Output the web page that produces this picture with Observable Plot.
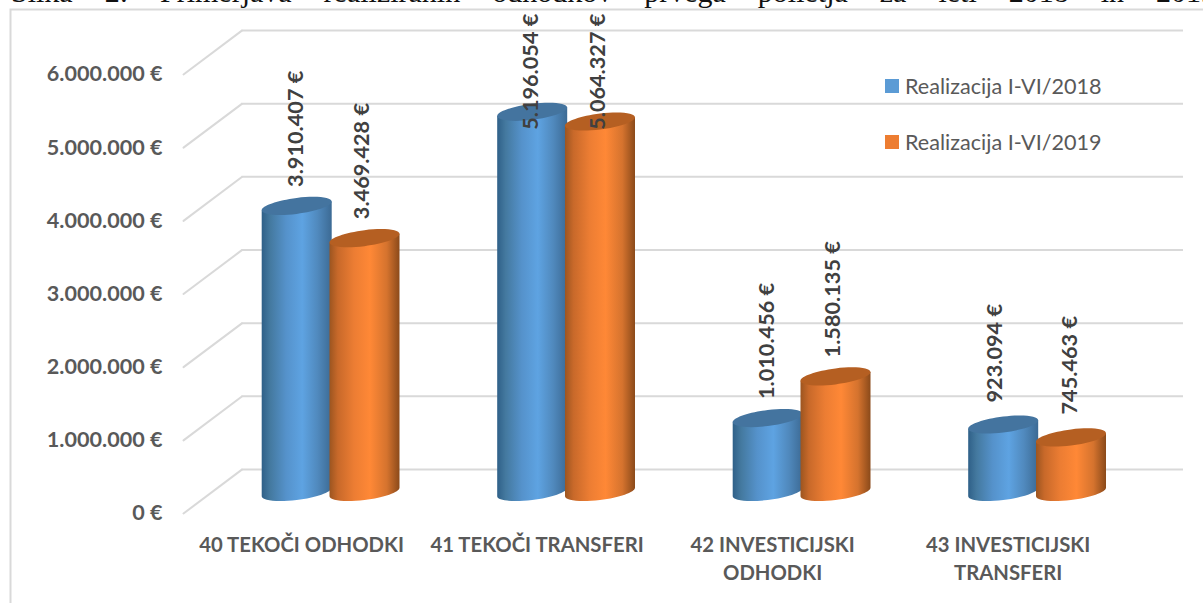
<!DOCTYPE html>
<html>
<head>
<meta charset="utf-8">
<script src="https://cdn.jsdelivr.net/npm/d3@7"></script>
<script src="https://cdn.jsdelivr.net/npm/@observablehq/plot@0.6"></script>
<style>
  html, body { margin: 0; padding: 0; background: #fff; }
  #page { position: relative; width: 1203px; height: 603px; overflow: hidden; }
  #page svg { position: absolute; left: 0; top: 0; }
  #title { position: absolute; left: 11px; top: -23px; line-height: 30px; white-space: nowrap; font-family: "Liberation Serif", serif; font-size: 30px; word-spacing: 24.5px; color: #111; }
  #legend { position: absolute; left: 885px; top: 71px; font: 21.6px Lato, sans-serif; color: #595959; }
  #legend div { display: flex; align-items: center; height: 30px; margin-bottom: 26px; }
  #legend i { display: block; width: 14px; height: 14px; margin-right: 6px; }
</style>
</head>
<body>
<div id="page">
  <div id="title"></div>
  <div id="legend"></div>
</div>
<script>
const titleText = "Slika 2: Primerjava realiziranih odhodkov prvega polletja za leti 2018 in 2019";
const categories = ["40 TEKOČI ODHODKI", "41 TEKOČI TRANSFERI", "42 INVESTICIJSKI\nODHODKI", "43 INVESTICIJSKI\nTRANSFERI"];
const seriesNames = ["Realizacija I-VI/2018", "Realizacija I-VI/2019"];
const values2018 = [3910407, 5196054, 1010456, 923094];
const values2019 = [3469428, 5064327, 1580135, 745463];
const yTicks = [0, 1000000, 2000000, 3000000, 4000000, 5000000, 6000000];
const legendColors = ["#5b9bd5", "#ed7d31"];
const capColors = ["#44749f", "#b55f22"];
const labelCeiling = 4690000; // labels of the tallest bars stop here in the reference

const euro = (v) => d3.format(",")(v).replace(/,/g, ".") + " €";
const rows2018 = categories.map((c, i) => ({category: c, value: values2018[i]}));
const rows2019 = categories.map((c, i) => ({category: c, value: values2019[i]}));

// Cylinder geometry, in pixels around the anchor of each mark
const A = 35, B = 8, K = 4.3, C = 0.5523;
const sh = (x, y) => [x, y - K * x / A];
const bodyShape = {
  draw(ctx, l) {
    ctx.moveTo(...sh(-A, -l));
    ctx.lineTo(...sh(A, -l));
    ctx.lineTo(...sh(A, 0));
    ctx.bezierCurveTo(...sh(A, C * B), ...sh(C * A, B), ...sh(0, B));
    ctx.bezierCurveTo(...sh(-C * A, B), ...sh(-A, C * B), ...sh(-A, 0));
    ctx.closePath();
  }
};
const capSymbol = {
  draw(ctx) {
    ctx.moveTo(...sh(A, 0));
    ctx.bezierCurveTo(...sh(A, C * B), ...sh(C * A, B), ...sh(0, B));
    ctx.bezierCurveTo(...sh(-C * A, B), ...sh(-A, C * B), ...sh(-A, 0));
    ctx.bezierCurveTo(...sh(-A, -C * B), ...sh(-C * A, -B), ...sh(0, -B));
    ctx.bezierCurveTo(...sh(C * A, -B), ...sh(A, -C * B), ...sh(A, 0));
    ctx.closePath();
  }
};
const lineShape = {draw(ctx, l) { ctx.moveTo(0, 0); ctx.lineTo(0, -l); }};

function gradient(id, stops) {
  const g = d3.create("svg:linearGradient").attr("id", id);
  stops.forEach(([o, c]) => g.append("stop").attr("offset", o).attr("stop-color", c));
  return g.node();
}
const defs = () => {
  const d = d3.create("svg:defs");
  d.append(() => gradient("cylBlue", [[0, "#2f6088"], [0.12, "#44799f"], [0.35, "#5592cb"], [0.58, "#5ea3e2"], [0.8, "#5089bd"], [1, "#3c6a94"]]));
  d.append(() => gradient("cylOrange", [[0, "#9c5520"], [0.12, "#c8692a"], [0.35, "#ec7d33"], [0.58, "#ff8836"], [0.82, "#d5732e"], [1, "#8b4a1a"]]));
  return d.node();
};

const cylinder = (rows, fill, cap, dx) => [
  Plot.vector(rows, {x: "category", y: () => 0, length: "value", anchor: "start", rotate: 0, shape: bodyShape, fill, stroke: "none", dx}),
  Plot.dot(rows, {x: "category", y: "value", r: 10, symbol: capSymbol, fill: cap, stroke: "none", dx})
];
const valueLabels = (rows, dx, dy) => Plot.text(rows, {
  x: "category",
  y: (d) => Math.min(d.value, labelCeiling),
  text: (d) => euro(d.value),
  rotate: -90,
  textAnchor: "start",
  dx,
  dy,
  fontFamily: "Lato",
  fontWeight: 700,
  fontSize: 21.7,
  fill: "#404040"
});

const chart = Plot.plot({
  width: 1203,
  height: 603,
  marginLeft: 165,
  marginRight: 20,
  marginTop: 52.5,
  marginBottom: 111.5,
  style: {background: "transparent", overflow: "hidden"},
  x: {type: "band", domain: categories, range: [212.35, 1154.35], padding: 0, round: false},
  y: {domain: [0, 6000000]},
  length: {type: "linear", domain: [0, 6000000], range: [0, 439]},
  marks: [
    defs,
    Plot.frame({stroke: "#d9d9d9", strokeWidth: 2, insetLeft: -155, insetTop: -43.5, insetRight: -30, insetBottom: -130}),
    Plot.ruleY(yTicks, {dy: -22.5, insetLeft: 76.5, stroke: "#d9d9d9", strokeWidth: 2}),
    Plot.vector(yTicks, {y: (d) => d, frameAnchor: "left", dx: 18, dy: 21.5, length: 73, rotate: 53.1, anchor: "start", shape: lineShape, stroke: "#d9d9d9", strokeWidth: 2}),
    Plot.axisY({ticks: yTicks, anchor: "left", tickSize: 0, tickPadding: 3, dy: 21.5, label: null, tickFormat: euro, fontFamily: "Lato", fontWeight: 700, fontSize: 21.6, fill: "#595959"}),
    Plot.axisX({anchor: "bottom", tickSize: 0, tickPadding: 40, dx: -29, label: null, fontFamily: "Lato", fontWeight: 700, fontSize: 20.3, lineHeight: 1.38, fill: "#595959"}),
    ...cylinder(rows2018, "url(#cylBlue)", capColors[0], -33.9),
    ...cylinder(rows2019, "url(#cylOrange)", capColors[1], 33.9),
    valueLabels(rows2018.slice(0, 3), -35, -19),
    valueLabels(rows2018.slice(3), -42, -22),
    valueLabels(rows2019.slice(0, 3), 31.5, -19),
    valueLabels(rows2019.slice(3), 33, -23)
  ]
});
const page = document.getElementById("page");
page.insertBefore(chart, page.firstChild);
document.getElementById("title").textContent = titleText;
const legend = document.getElementById("legend");
seriesNames.forEach((name, i) => {
  const row = legend.appendChild(document.createElement("div"));
  const swatch = row.appendChild(document.createElement("i"));
  swatch.style.background = legendColors[i];
  row.appendChild(document.createTextNode(name));
});
</script>
</body>
</html>
